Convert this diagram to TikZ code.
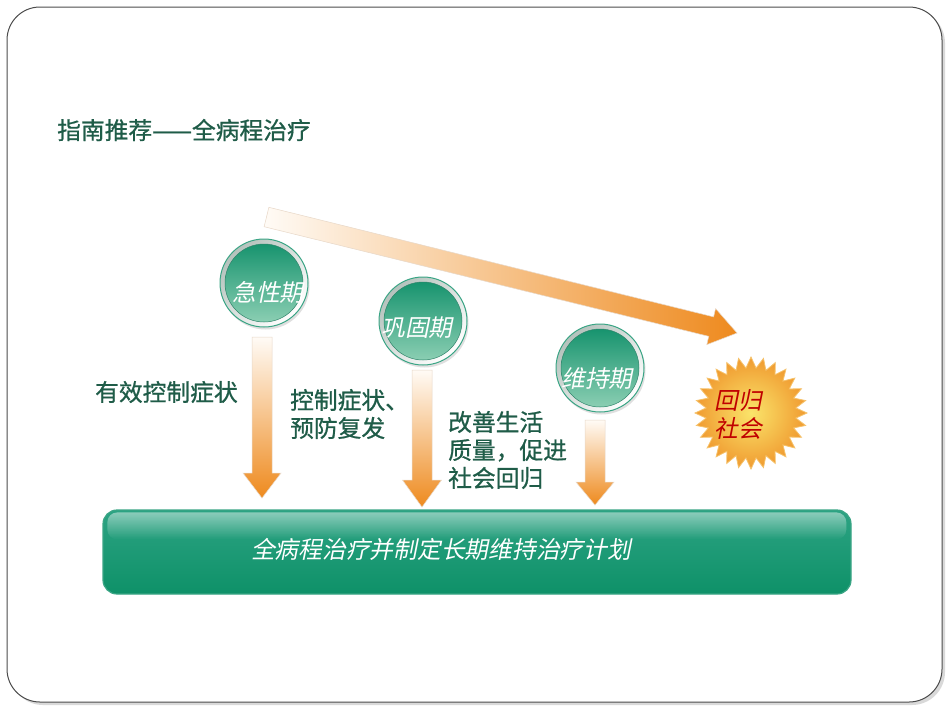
\documentclass[tikz,border=0pt]{standalone}
\usepackage{fontspec}
\usetikzlibrary{shapes.geometric,fadings,shadows}
\newfontfamily\cjk{Noto Sans CJK SC}[FakeBold=0.8]
\newfontfamily\cjkit{Noto Sans CJK SC}[FakeSlant=0.2]
\definecolor{tg}{HTML}{1F5C48}
\definecolor{orA}{HTML}{EE8A1E}
\definecolor{orM}{HTML}{F5BC7C}
\definecolor{arrtop}{HTML}{FFFBF6}
\definecolor{arredge}{HTML}{E8D8C8}
\definecolor{gTop}{HTML}{2CA383}
\definecolor{gMid}{HTML}{087452}
\definecolor{gBot}{HTML}{0E9168}
\definecolor{gEdge}{HTML}{3AA585}
\definecolor{inTop}{HTML}{10906A}
\definecolor{inMid}{HTML}{26A07B}
\definecolor{inBot}{HTML}{92D2B7}
\definecolor{ringA}{HTML}{B4C2BC}
\definecolor{burstIn}{HTML}{FAE46A}
\definecolor{burstOut}{HTML}{F09A30}
\definecolor{burstEdge}{HTML}{F6C26A}
\definecolor{redtxt}{HTML}{C00000}
\newcommand\fatdown[6]{%
  \shade[top color=arrtop, bottom color=orA, draw=arredge, line width=0.5]
  (#1-#5,#2) -- (#1+#5,#2) -- (#1+#5,#3) -- (#1+#6,#3) -- (#1,#4)
  -- (#1-#6,#3) -- (#1-#5,#3) -- cycle;}
\begin{document}
\begin{tikzpicture}[x=1pt,y=-1pt,
  greentext/.style={font=\cjk\fontsize{23.75}{28}\selectfont, text=tg, inner sep=0, align=left},
  whitetext/.style={font=\cjkit\fontsize{23.75}{28}\selectfont, text=white, inner sep=0},
  phase/.style={circle, minimum size=88pt, inner sep=0,
    top color=ringA, bottom color=white, shading angle=45,
    draw=gEdge, line width=1pt,
    drop shadow={opacity=0.25, shadow xshift=1.5pt, shadow yshift=-2.5pt},
    path picture={
      \shade[top color=inTop, middle color=inMid, bottom color=inBot, draw=gEdge!80!black, line width=0.5pt]
        (path picture bounding box.center) circle (39pt);
    }},
  barbox/.style={rectangle, rounded corners=14pt, minimum width=748pt, minimum height=84pt,
    inner sep=0, top color=gTop, middle color=gMid, bottom color=gBot,
    draw=gEdge, line width=1.2pt},
  burststyle/.style={star, star points=28, star point ratio=1.24, minimum size=112pt,
    inner sep=0, inner color=burstIn, outer color=burstOut, draw=burstEdge, line width=0.8pt}
]
\useasboundingbox (0,0) rectangle (950,713);
% slide frame
\fill[gray!30, rounded corners=33pt] (10,10) rectangle (945,705);
\draw[fill=white, draw=black!70, line width=1pt, rounded corners=33pt] (7,7) rectangle (942,702);

% title
\node[greentext, anchor=west] (title) at (57,130) {指南推荐——全病程治疗};

% diagonal arrow
\shade[left color=arrtop, middle color=orM, right color=orA, draw=arredge, line width=0.5]
  (268.9,207.3) -- (713.6,316.9) -- (715.6,308.6) -- (737,333) -- (706.8,344.6)
  -- (708.8,336.3) -- (264.1,226.7) -- cycle;

% down arrows
\fatdown{262}{337}{473}{498}{10}{19}
\fatdown{422}{370}{480}{507}{10}{19.5}
\fatdown{595}{420}{482}{505}{10}{19}

% phase circles
\node[phase] (c1) at (264,283) {};
\node[phase] (c2) at (423,321) {};
\node[phase] (c3) at (600,368) {};
\node[whitetext] (t1) at (268,292) {急性期};
\node[whitetext] (t2) at (417,328) {巩固期};
\node[whitetext] (t3) at (597,379) {维持期};

% starburst
\node[burststyle] (burst) at (751,413) {};
\node[font=\cjkit\fontsize{23.75}{28}\selectfont, text=redtxt, inner sep=0, align=center] (bt) at (738,414) {回归\\社会};

% labels
\node[greentext, anchor=west] (l1) at (95,392) {有效控制症状};
\node[greentext, anchor=west] (l2) at (290,414) {控制症状、\\预防复发};
\node[greentext, anchor=west] (l3) at (448,450) {改善生活\\质量，促进\\社会回归};

% bottom bar
\node[barbox] (bar) at (477,552) {};
\fill[white, fill opacity=0.45, path fading=south, rounded corners=10pt]
  ([xshift=5pt,yshift=-3pt]bar.north west) rectangle ([xshift=-5pt,yshift=-30pt]bar.north east);
\node[whitetext] (bart) at (441,549) {全病程治疗并制定长期维持治疗计划};
\end{tikzpicture}
\end{document}
